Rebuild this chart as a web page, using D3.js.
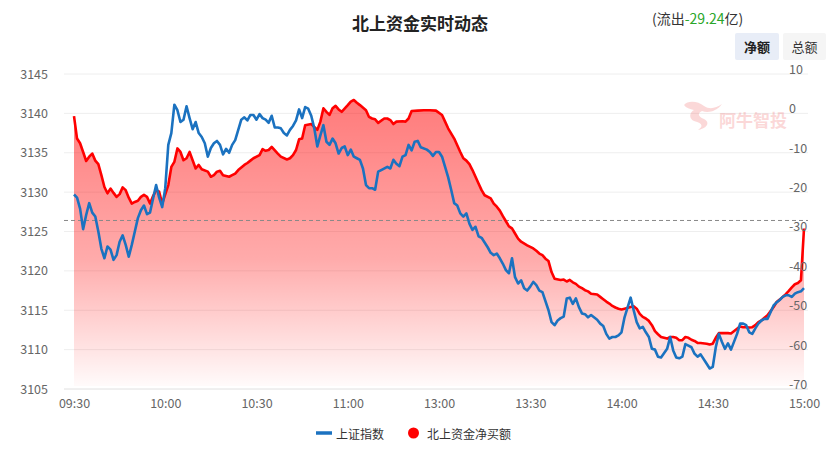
<!DOCTYPE html>
<html>
<head>
<meta charset="utf-8">
<script src="https://cdn.jsdelivr.net/npm/d3@7"></script>
<style>
  body { margin: 0; background: #fff; }
  svg { display: block; font-family: "Noto Sans CJK SC", "Noto Sans", sans-serif; }
</style>
</head>
<body>
<svg id="chart" width="838" height="459"></svg>
<script>
// x axis: minutes since 09:30 (lunch break removed)
var tickMinutes = [0, 30, 60, 90, 120, 150, 180, 210, 240];
var tickLabels = ['09:30', '10:00', '10:30', '11:00', '13:00', '13:30', '14:00', '14:30', '15:00'];
var leftTicks = [3105, 3110, 3115, 3120, 3125, 3130, 3135, 3140, 3145];
var rightTicks = [-70, -60, -50, -40, -30, -20, -10, 0, 10];
var prevClose = 3126.4;

// 上证指数
var indexMin = [0,1,2,3,4,5,6,7,8,9,10,11,12,13,14,15,16,17,18,19,20,21,22,23,24,25,26,27,28,29,30,
  31,32,33,34,35,36,37,38,39,40,41,42,43,44,45,46,47,48,49,50,51,52,53,54,55,56,57,58,59,60,
  61,62,63,64,65,66,67,68,69,70,71,72,73,74,75,76,77,78,79,80,81,82,83,84,85,86,87,88,89,90,
  91,92,93,94,95,96,97,98,99,100,101,103,104,105,106,107,108,109,110,111,112,113,114,116,117,118,119,120,
  121,122,123,124,125,126,127,128,129,130,131,132,133,134,135,136,137,138,139,140,141,142,143,144,145,146,147,148,149,150,
  151,152,153,154,156,157,158,159,160,161,162,163,164,165,166,167,168,169,170,172,173,174,175,176,177,178,179,180,
  181,183,184,185,186,187,188,189,190,191,192,193,195,196,197,198,199,200,201,202,203,204,205,206,208,209,210,
  211,212,213,214,215,216,218,219,220,221,222,223,224,225,226,227,228,230,231,232,233,234,235,236,237,238,239,240];
var indexVal = [3129.7,3129.3,3127.9,3125.3,3127.1,3128.6,3127.4,3126.9,3125.0,3122.8,3121.6,3123.1,3122.7,3121.4,3122.0,3123.7,3124.5,3123.3,3121.8,3123.3,3125.0,3126.7,3127.7,3128.3,3127.2,3127.4,3129.2,3130.9,3129.3,3128.1,3130.5,
  3136.0,3137.5,3141.1,3140.4,3138.9,3139.2,3140.9,3139.4,3138.0,3138.9,3137.5,3137.0,3136.2,3134.5,3135.6,3136.2,3136.5,3136.0,3134.8,3135.5,3135.0,3136.0,3136.6,3137.9,3139.2,3139.5,3139.1,3139.8,3139.8,3139.2,
  3139.9,3139.4,3139.2,3138.8,3139.7,3138.2,3138.2,3138.1,3137.5,3137.2,3137.9,3138.4,3139.1,3140.5,3139.4,3140.8,3140.6,3139.7,3138.1,3135.8,3137.2,3138.5,3136.4,3136.0,3136.8,3136.2,3134.9,3135.6,3135.8,3134.7,
  3135.4,3134.5,3134.3,3134.1,3133.0,3130.9,3130.5,3130.5,3130.3,3132.6,3132.8,3133.2,3133.0,3134.1,3133.6,3133.3,3134.5,3134.7,3136.0,3135.3,3136.4,3136.5,3135.7,3135.4,3135.1,3134.6,3135.1,3135.1,
  3134.5,3133.2,3131.9,3130.3,3128.6,3128.3,3127.3,3126.9,3127.3,3126.0,3125.2,3125.6,3124.4,3124.2,3123.6,3123.0,3122.3,3122.0,3122.2,3121.6,3120.9,3120.1,3119.7,3121.6,3119.2,3118.4,3118.8,3117.8,3117.5,3118.0,
  3118.6,3118.2,3117.5,3117.3,3115.0,3113.5,3113.1,3113.7,3114.0,3114.2,3116.5,3116.6,3115.8,3116.5,3115.4,3114.6,3114.5,3114.1,3114.4,3113.8,3113.3,3113.0,3112.0,3111.4,3111.6,3111.6,3111.8,3112.2,
  3114.1,3116.6,3115.0,3113.5,3112.7,3112.9,3112.2,3111.6,3110.1,3110.0,3109.1,3109.0,3110.1,3111.6,3109.9,3109.0,3108.9,3109.1,3110.7,3110.5,3110.3,3109.5,3109.1,3109.4,3108.2,3107.6,3107.8,
  3110.3,3112.0,3111.0,3110.1,3110.8,3110.0,3112.0,3113.3,3113.3,3113.1,3112.2,3112.0,3112.7,3113.3,3113.7,3113.9,3113.9,3115.6,3116.0,3116.3,3116.7,3116.9,3116.9,3116.7,3117.1,3117.3,3117.4,3117.8];

// 北上资金净买额 (亿)
var flowMin = [0,1,2,3,4,5,6,7,8,9,10,11,12,13,14,15,16,17,18,19,20,21,22,23,24,25,26,27,28,29,
  31,32,33,34,35,36,37,38,39,40,41,42,44,45,46,47,48,49,50,51,52,53,54,56,57,58,59,
  61,62,63,64,65,67,68,70,71,72,73,74,75,76,78,80,81,82,83,84,85,86,87,88,90,
  91,92,93,94,96,97,98,99,100,102,103,104,105,106,108,109,110,111,113,115,117,119,
  121,122,123,125,126,127,128,129,130,131,132,133,134,135,137,138,139,140,141,142,143,144,145,146,147,149,150,
  151,152,153,154,155,156,157,158,160,161,162,163,164,165,166,167,168,169,170,172,173,174,175,176,177,178,179,180,
  181,183,184,185,186,187,188,189,190,191,192,193,195,196,197,198,199,200,201,202,203,204,205,206,208,209,210,
  211,212,213,214,215,216,218,219,220,221,222,223,224,225,226,227,228,230,231,232,233,234,235,236,237,238,239,240];
var flowVal = [-0.7,-6.4,-7.6,-9.8,-12.1,-11.0,-10.2,-12.0,-12.9,-15.7,-18.7,-20.3,-19.1,-20.2,-21.2,-20.5,-18.8,-19.5,-21.4,-22.9,-22.5,-22.2,-21.2,-20.7,-21.2,-22.9,-21.0,-19.5,-19.9,-22.9,
  -18.2,-13.6,-12.3,-8.9,-9.8,-11.9,-11.4,-9.8,-11.9,-14.0,-13.1,-14.2,-14.8,-16.1,-15.7,-14.8,-14.6,-15.7,-15.9,-16.1,-15.7,-15.3,-14.4,-13.1,-12.6,-12.0,-11.4,
  -10.6,-9.1,-9.5,-9.3,-8.5,-10.2,-11.0,-11.7,-11.4,-10.6,-9.3,-6.6,-6.4,-3.0,-2.7,-4.2,-2.1,1.3,0.4,-0.4,1.3,1.9,1.0,0.4,2.1,
  3.0,3.4,2.7,2.1,0.8,-0.9,-1.3,-1.5,-2.4,-1.3,-1.3,-1.7,-2.7,-2.1,-2.0,-2.1,-1.3,0.6,0.7,0.8,0.8,0.7,
  -0.4,-2.1,-3.8,-6.4,-8.1,-9.8,-11.4,-12.0,-12.9,-14.4,-16.1,-17.8,-19.5,-20.8,-21.6,-22.9,-23.7,-24.7,-26.1,-27.4,-28.7,-29.2,-30.5,-31.8,-32.6,-33.5,-33.9,
  -34.3,-34.9,-35.6,-36.0,-36.9,-37.5,-40.3,-42.0,-42.3,-42.2,-42.7,-42.3,-42.9,-43.3,-44.0,-44.4,-44.9,-45.2,-45.8,-46.0,-46.6,-47.2,-47.8,-48.3,-48.9,-49.3,-49.6,-49.8,
  -49.6,-49.2,-49.0,-49.6,-50.9,-51.7,-52.1,-52.7,-53.8,-55.3,-56.1,-56.8,-57.2,-56.8,-56.8,-57.0,-57.6,-57.6,-56.8,-57.0,-57.5,-57.8,-58.3,-58.3,-58.5,-58.7,-58.5,
  -57.0,-55.8,-55.8,-55.8,-55.8,-55.9,-54.7,-54.1,-54.3,-54.3,-54.4,-54.3,-53.8,-53.0,-52.6,-51.9,-51.3,-49.2,-47.9,-47.3,-46.6,-45.9,-45.1,-44.2,-43.4,-43.1,-42.4,-29.24];

var svg = d3.select('#chart');
var plotTop = 74, plotBottom = 389, plotLeft = 64, plotRight = 808;

var x = d3.scaleLinear().domain([0, 240]).range([74, 804]);
var yL = d3.scaleLinear().domain([3105, 3145]).range([plotBottom, plotTop]);
var yR = d3.scaleLinear().domain([-70, 10]).range([plotBottom, plotTop]);

var indexData = indexMin.map(function(m, i) { return { m: m, v: indexVal[i] }; });
var flowData = flowMin.map(function(m, i) { return { m: m, v: flowVal[i] }; });

// title
svg.append('text')
  .attr('x', 420).attr('y', 22)
  .attr('text-anchor', 'middle').attr('dominant-baseline', 'central')
  .attr('font-size', 17).attr('font-weight', 'bold').attr('fill', '#222')
  .text('北上资金实时动态');

var flowTxt = svg.append('text')
  .attr('x', 652).attr('y', 18)
  .attr('dominant-baseline', 'central')
  .attr('font-size', 14).attr('fill', '#333');
flowTxt.append('tspan').text('(流出');
flowTxt.append('tspan').attr('fill', '#2aa62a').text(flowVal[flowVal.length - 1].toFixed(2));
flowTxt.append('tspan').text('亿)');

// buttons
var buttons = [{ t: '净额', x: 735, w: 44, bg: '#e8edf7', bold: true },
               { t: '总额', x: 783, w: 43, bg: '#f5f5f5', bold: false }];
buttons.forEach(function(b) {
  svg.append('rect').attr('x', b.x).attr('y', 33).attr('width', b.w).attr('height', 27)
    .attr('rx', 2).attr('fill', b.bg);
  svg.append('text').attr('x', b.x + b.w / 2).attr('y', 46.5)
    .attr('text-anchor', 'middle').attr('dominant-baseline', 'central')
    .attr('font-size', 13).attr('font-weight', b.bold ? 'bold' : 'normal')
    .attr('fill', b.bold ? '#222' : '#333').text(b.t);
});

// grid lines
svg.append('g').selectAll('line')
  .data(leftTicks)
  .enter().append('line')
  .attr('x1', plotLeft).attr('x2', plotRight)
  .attr('y1', function(d) { return yL(d); })
  .attr('y2', function(d) { return yL(d); })
  .attr('stroke', function(d) { return d === 3105 ? '#e0e0e0' : '#eeeeee'; })
  .attr('stroke-width', 1);

// watermark
var wm = svg.append('g').attr('opacity', 0.22);
wm.append('path')
  .attr('d', 'M684,105 C688,100 698,101 704,106 C710,110 716,108 722,104 C716,112 708,113 702,111 C698,113 697,116 704,119 C710,122 708,128 698,130 C704,126 702,123 694,121 C688,118 690,112 694,110 C690,109 686,108 684,105 Z')
  .attr('fill', '#f05050');
wm.append('text')
  .attr('x', 719).attr('y', 119)
  .attr('dominant-baseline', 'central')
  .attr('font-size', 17).attr('font-weight', 'bold').attr('fill', '#f05050')
  .text('阿牛智投');

// gradient for the area
var grad = svg.append('defs').append('linearGradient')
  .attr('id', 'flowFill').attr('gradientUnits', 'userSpaceOnUse')
  .attr('x1', 0).attr('x2', 0).attr('y1', yR(3.4)).attr('y2', plotBottom);
grad.append('stop').attr('offset', '0').attr('stop-color', '#ff0000').attr('stop-opacity', 0.52);
grad.append('stop').attr('offset', '0.55').attr('stop-color', '#ff0000').attr('stop-opacity', 0.33);
grad.append('stop').attr('offset', '1').attr('stop-color', '#ff0000').attr('stop-opacity', 0.01);

var area = d3.area()
  .x(function(d) { return x(d.m); })
  .y0(plotBottom - 3)
  .y1(function(d) { return yR(d.v); });

svg.append('path').datum(flowData)
  .attr('d', area).attr('fill', 'url(#flowFill)');

// previous close
svg.append('line')
  .attr('x1', plotLeft).attr('x2', plotRight)
  .attr('y1', yL(prevClose)).attr('y2', yL(prevClose))
  .attr('stroke', '#888').attr('stroke-dasharray', '4,3').attr('stroke-width', 1);

var flowLine = d3.line().x(function(d) { return x(d.m); }).y(function(d) { return yR(d.v); });
var indexLine = d3.line().x(function(d) { return x(d.m); }).y(function(d) { return yL(d.v); });

svg.append('path').datum(flowData)
  .attr('d', flowLine).attr('fill', 'none')
  .attr('stroke', '#ff0000').attr('stroke-width', 2.6).attr('stroke-linejoin', 'round');

svg.append('path').datum(indexData)
  .attr('d', indexLine).attr('fill', 'none')
  .attr('stroke', '#1b72c0').attr('stroke-width', 2.6).attr('stroke-linejoin', 'round');

// axes
var axL = svg.append('g').attr('transform', 'translate(' + plotLeft + ',0)')
  .call(d3.axisLeft(yL).tickValues(leftTicks).tickSize(0).tickPadding(16).tickFormat(d3.format('d')));
var axR = svg.append('g').attr('transform', 'translate(789,0)')
  .call(d3.axisRight(yR).tickValues(rightTicks).tickSize(0).tickPadding(0).tickFormat(function(d) {
    return d < 0 ? '-' + Math.abs(d) : d;
  }));
axR.selectAll('text').attr('dy', '-0.05em');
var axB = svg.append('g').attr('transform', 'translate(0,' + plotBottom + ')')
  .call(d3.axisBottom(x).tickValues(tickMinutes).tickSize(0).tickPadding(10)
    .tickFormat(function(d, i) { return tickLabels[i]; }));

[axL, axR, axB].forEach(function(a) {
  a.select('.domain').remove();
  a.selectAll('text')
    .attr('font-family', '"Noto Sans CJK SC", "Noto Sans", sans-serif')
    .attr('font-size', 12.5).attr('fill', '#666');
});

// legend
var lg = svg.append('g');
lg.append('line').attr('x1', 316).attr('x2', 332).attr('y1', 433).attr('y2', 433)
  .attr('stroke', '#1b72c0').attr('stroke-width', 3.5);
lg.append('text').attr('x', 336).attr('y', 433).attr('dominant-baseline', 'central')
  .attr('font-size', 12).attr('fill', '#333').text('上证指数');
lg.append('circle').attr('cx', 413.5).attr('cy', 433).attr('r', 5.5).attr('fill', '#ff0000');
lg.append('text').attr('x', 427).attr('y', 433).attr('dominant-baseline', 'central')
  .attr('font-size', 12).attr('fill', '#333').text('北上资金净买额');
</script>
</body>
</html>
